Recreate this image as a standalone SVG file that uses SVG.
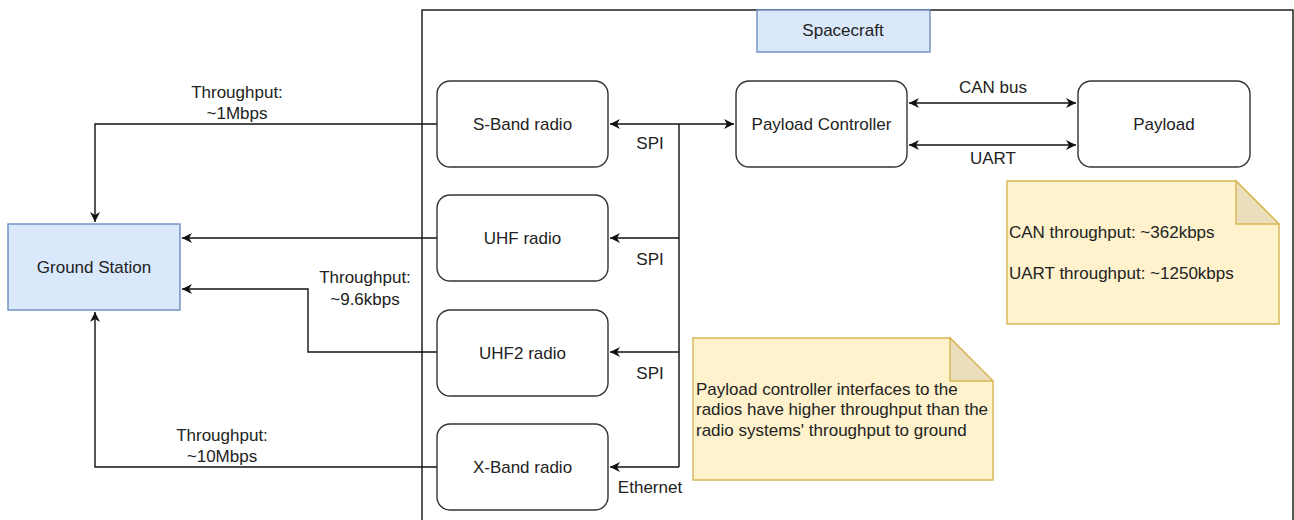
<svg xmlns="http://www.w3.org/2000/svg" width="1294" height="520" viewBox="0 0 1294 520">
  <style>
    text { font-family: "Liberation Sans", Arial, sans-serif; font-size: 17px; fill: #222; }
    .mid { text-anchor: middle; }
    .box { fill: #ffffff; stroke: #333; stroke-width: 1.4; }
    .blue { fill: #dae8fc; stroke: #6c8ebf; stroke-width: 1.4; }
    .note { fill: #fff2cc; stroke: #d6b656; stroke-width: 1.4; }
    .fold { fill: #ebdfbb; stroke: #d6b656; stroke-width: 1.4; }
    .wire { fill: none; stroke: #111; stroke-width: 1.4; }
  </style>
  <defs>
    <marker id="arrow" markerUnits="userSpaceOnUse" markerWidth="12" markerHeight="12" refX="10" refY="5" orient="auto-start-reverse">
      <path d="M0,0 L10,5 L0,10 L3,5 Z" fill="#111"/>
    </marker>
  </defs>

  <rect width="1294" height="520" fill="#ffffff"/>

  <!-- spacecraft boundary -->
  <g id="spacecraft">
    <rect x="422" y="10" width="871" height="530" fill="none" stroke="#111" stroke-width="1.4"/>
    <rect class="blue" x="757" y="10" width="173" height="42"/>
    <text class="mid" x="843" y="36">Spacecraft</text>
  </g>

  <!-- connectors -->
  <g id="connectors">
    <path class="wire" d="M437,124 H95 V222" marker-end="url(#arrow)"/>
    <path class="wire" d="M437,238 H182" marker-end="url(#arrow)"/>
    <path class="wire" d="M437,352 H308 V289 H182" marker-end="url(#arrow)"/>
    <path class="wire" d="M437,467 H95 V312" marker-end="url(#arrow)"/>

    <path class="wire" d="M679,467 V124"/>
    <path class="wire" d="M679,124 H610" marker-end="url(#arrow)"/>
    <path class="wire" d="M679,124 H734" marker-end="url(#arrow)"/>
    <path class="wire" d="M679,238 H610" marker-end="url(#arrow)"/>
    <path class="wire" d="M679,352 H610" marker-end="url(#arrow)"/>
    <path class="wire" d="M679,467 H610" marker-end="url(#arrow)"/>

    <path class="wire" d="M909,103 H1076" marker-start="url(#arrow)" marker-end="url(#arrow)"/>
    <path class="wire" d="M909,145 H1076" marker-start="url(#arrow)" marker-end="url(#arrow)"/>

    <text class="mid" x="237" y="98">Throughput:</text>
    <text class="mid" x="237" y="119">~1Mbps</text>
    <text class="mid" x="365" y="283">Throughput:</text>
    <text class="mid" x="365" y="305">~9.6kbps</text>
    <text class="mid" x="222" y="441">Throughput:</text>
    <text class="mid" x="222" y="462">~10Mbps</text>

    <text class="mid" x="650" y="149">SPI</text>
    <text class="mid" x="650" y="265">SPI</text>
    <text class="mid" x="650" y="379">SPI</text>
    <text class="mid" x="650" y="493">Ethernet</text>

    <text class="mid" x="993" y="93">CAN bus</text>
    <text class="mid" x="993" y="164">UART</text>
  </g>

  <g id="ground-station">
    <rect class="blue" x="8" y="224" width="172" height="86"/>
    <text class="mid" x="94" y="273">Ground Station</text>
  </g>

  <g id="s-band">
    <rect class="box" x="437" y="81" width="171" height="86" rx="13"/>
    <text class="mid" x="522.5" y="130">S-Band radio</text>
  </g>
  <g id="uhf">
    <rect class="box" x="437" y="195" width="171" height="86" rx="13"/>
    <text class="mid" x="522.5" y="244">UHF radio</text>
  </g>
  <g id="uhf2">
    <rect class="box" x="437" y="310" width="171" height="86" rx="13"/>
    <text class="mid" x="522.5" y="359">UHF2 radio</text>
  </g>
  <g id="x-band">
    <rect class="box" x="437" y="424" width="171" height="86" rx="13"/>
    <text class="mid" x="522.5" y="473">X-Band radio</text>
  </g>

  <g id="payload-controller">
    <rect class="box" x="736" y="81" width="171" height="86" rx="13"/>
    <text class="mid" x="821.5" y="130">Payload Controller</text>
  </g>
  <g id="payload">
    <rect class="box" x="1078" y="81" width="172" height="86" rx="13"/>
    <text class="mid" x="1164" y="130">Payload</text>
  </g>

  <g id="note-bus-rates">
    <path class="note" d="M1007,181 H1236 L1279,224 V324 H1007 Z"/>
    <path class="fold" d="M1236,181 V224 H1279 Z"/>
    <text x="1009" y="238">CAN throughput: ~362kbps</text>
    <text x="1009" y="279">UART throughput: ~1250kbps</text>
  </g>

  <g id="note-radio-rates">
    <path class="note" d="M693,338 H950 L993,381 V480 H693 Z"/>
    <path class="fold" d="M950,338 V381 H993 Z"/>
    <text x="696" y="395">Payload controller interfaces to the</text>
    <text x="696" y="415">radios have higher throughput than the</text>
    <text x="696" y="436">radio systems' throughput to ground</text>
  </g>
</svg>
